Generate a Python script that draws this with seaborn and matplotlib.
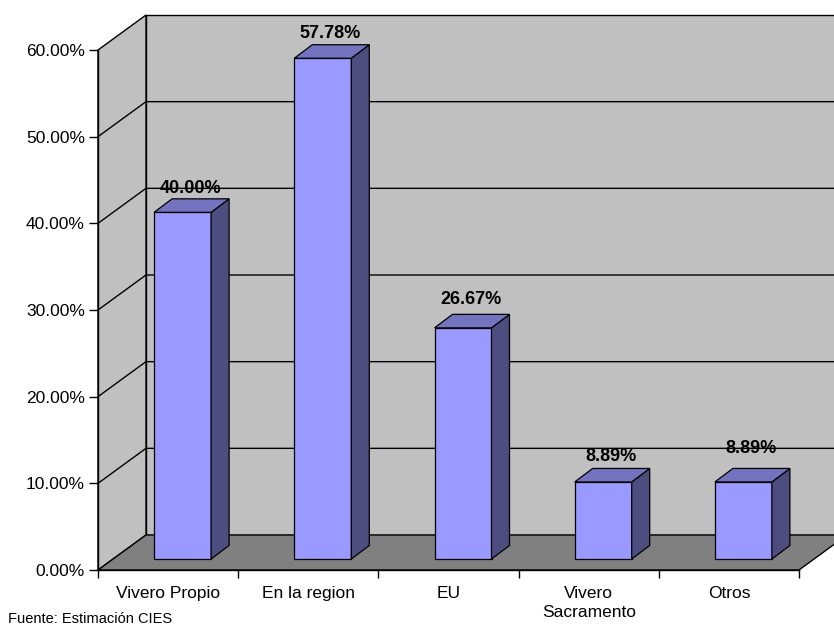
import matplotlib
matplotlib.use("Agg")
import matplotlib.pyplot as plt
from matplotlib.patches import Polygon
import seaborn as sns

# Origen de las plantas (porcentaje de productores)
categories = ["Vivero Propio", "En la region", "EU", "Vivero\nSacramento", "Otros"]
values = [40.00, 57.78, 26.67, 8.89, 8.89]
value_labels = ["40.00%", "57.78%", "26.67%", "8.89%", "8.89%"]
y_ticks = [0, 10, 20, 30, 40, 50, 60]
y_tick_labels = ["0.00%", "10.00%", "20.00%", "30.00%", "40.00%", "50.00%", "60.00%"]
source_note = "Fuente: Estimación CIES"

# Estilo
FRONT = "#9999FF"
SIDE = "#4D4D80"
TOP = "#7373BF"
WALL = "#C0C0C0"
FLOOR = "#808080"
label_lift_px = [6, 7, 10, 7, 15]

sns.set_theme(style="white")
plt.rcParams["font.family"] = ["Liberation Sans", "DejaVu Sans"]

W_PX, H_PX = 834, 626
fig = plt.figure(figsize=(W_PX / 100, H_PX / 100), dpi=100)

# Front plane of the 3-D box (pixel geometry of the frame)
left_px, right_px, bottom_px, top_px = 98, 799, 570, 50
L = left_px / W_PX
B = (H_PX - bottom_px) / H_PX
W = (right_px - left_px) / W_PX
H = (bottom_px - top_px) / H_PX

ax = fig.add_axes([L, B, W, H])
ax.set_xlim(-0.5, 4.5)
ax.set_ylim(0, 60)
ax.patch.set_alpha(0)

px_x = (right_px - left_px) / 5.0      # pixels per category
px_y = (bottom_px - top_px) / 60.0     # pixels per percent

# depth of the box
DX = 48 / px_x
DY = 35 / px_y
x0, x1 = -0.5, 4.5

def poly(a, pts, fc, ec="black", lw=1.0, z=1):
    a.add_patch(Polygon(pts, closed=True, facecolor=fc, edgecolor=ec,
                        linewidth=lw, clip_on=False, zorder=z, joinstyle="miter"))

# back wall, left wall, floor
poly(ax, [(x0 + DX, DY), (x1 + DX, DY), (x1 + DX, 60 + DY), (x0 + DX, 60 + DY)], WALL, z=0.5)
poly(ax, [(x0, 0), (x0 + DX, DY), (x0 + DX, 60 + DY), (x0, 60)], WALL, z=0.6)
poly(ax, [(x0, 0), (x1, 0), (x1 + DX, DY), (x0 + DX, DY)], FLOOR, z=0.6)

# gridlines on walls
for v in y_ticks[1:-1]:
    ax.plot([x0, x0 + DX, x1 + DX], [v, v + DY, v + DY], color="black",
            lw=1.0, clip_on=False, zorder=0.7)

# axes appearance
for s in ["top", "right"]:
    ax.spines[s].set_visible(False)
for s in ["left", "bottom"]:
    ax.spines[s].set_color("black")
    ax.spines[s].set_linewidth(1.0)
    ax.spines[s].set_zorder(3)

ax.set_yticks(y_ticks)
ax.set_yticklabels(y_tick_labels)
ax.tick_params(axis="y", direction="out", length=6.5, width=1.0, pad=3,
               labelsize=12.5, colors="black", left=True)
ax.set_xticks([x0 + i for i in range(6)])
ax.set_xticklabels([""] * 6)
ax.set_xticks(range(5), minor=True)
ax.set_xticklabels(categories, minor=True, linespacing=1.3)
ax.tick_params(axis="x", which="major", direction="out", length=6, width=1.0,
               bottom=True, colors="black")
ax.tick_params(axis="x", which="minor", length=0, pad=11.5, labelsize=12.5,
               labelcolor="black", bottom=True)
ax.set_xlabel("")
ax.set_ylabel("")

# Bars sit slightly inside the box depth
axf = fig.add_axes([L + 14.5 / W_PX, B + 11 / H_PX, W, H])
sns.barplot(x=categories, y=values, ax=axf, color=FRONT, saturation=1,
            width=57 / px_x, edgecolor="black", linewidth=0.9, zorder=3)
axf.set_xlim(-0.5, 4.5)
axf.set_ylim(0, 60)
axf.set_axis_off()

ddx = 18 / px_x
ddy = 13.5 / px_y
for i, p in enumerate(axf.patches):
    bx, bw, bh = p.get_x(), p.get_width(), p.get_height()
    p.set_clip_on(False)
    poly(axf, [(bx + bw, 0), (bx + bw + ddx, ddy), (bx + bw + ddx, bh + ddy), (bx + bw, bh)],
         SIDE, lw=0.9, z=3)
    poly(axf, [(bx, bh), (bx + ddx, bh + ddy), (bx + bw + ddx, bh + ddy), (bx + bw, bh)],
         TOP, lw=0.9, z=3)
    axf.text(bx + bw / 2 + ddx * 0.42, bh + ddy + label_lift_px[i] / px_y,
             value_labels[i], ha="center", va="baseline", fontsize=13,
             fontweight="bold", color="black", zorder=5, clip_on=False)

fig.text(8 / W_PX, 1 - 612 / H_PX, source_note, ha="left", va="top",
         fontsize=10.5, color="black")

fig.savefig("out.png", dpi=100)
